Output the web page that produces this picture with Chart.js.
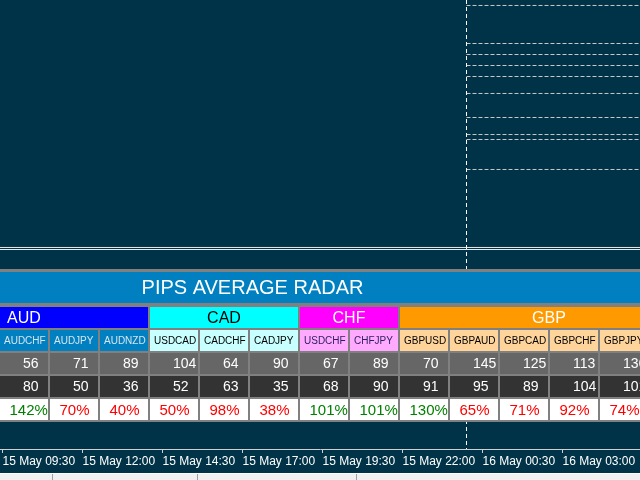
<!DOCTYPE html>
<html lang="en">
<head>
<meta charset="UTF-8">
<title>Pips Average Radar</title>
<script src="https://cdn.jsdelivr.net/npm/chart.js@4"></script>
<style>
    html, body { margin: 0; padding: 0; background-color: #003347; overflow: hidden; }
    .wrap { position: relative; width: 640px; height: 480px; }
    #radar { position: absolute; left: 0; top: 0; }
    .tabs-edge { position: absolute; left: 0; top: 473px; width: 640px; height: 1px; background: #ffffff; }
    .tabs { position: absolute; left: 0; top: 474px; width: 640px; height: 6px; background: #f0f0f0; }
    .tabs span { position: absolute; top: 0; width: 1px; height: 6px; background: #a0a0a0; }
</style>
</head>
<body>
<div class="wrap">
    <canvas id="radar" width="640" height="473"></canvas>
    <div class="tabs-edge"></div>
    <div class="tabs"><span style="left:52px"></span><span style="left:197px"></span><span style="left:356px"></span></div>
</div>
<script>
// table content, one entry per visible pair column
const pairs = ['AUDCHF', 'AUDJPY', 'AUDNZD', 'USDCAD', 'CADCHF', 'CADJPY', 'USDCHF', 'CHFJPY',
               'GBPUSD', 'GBPAUD', 'GBPCAD', 'GBPCHF', 'GBPJPY'];
const pairCurrency = ['AUD', 'AUD', 'AUD', 'CAD', 'CAD', 'CAD', 'CHF', 'CHF',
                      'GBP', 'GBP', 'GBP', 'GBP', 'GBP'];
const avgPips = [56, 71, 89, 104, 64, 90, 67, 89, 70, 145, 125, 113, 136];
const todayPips = [80, 50, 36, 52, 63, 35, 68, 90, 91, 95, 89, 104, 101];
const pctOfAvg = [142, 70, 40, 50, 98, 38, 101, 101, 130, 65, 71, 92, 74];

// currency header spans (column index); AUD and GBP run past the window edges
const currencies = ['AUD', 'CAD', 'CHF', 'GBP'];
const currencyFirstCol = [-2, 3, 6, 8];
const currencyLastCol = [2, 5, 7, 13];

// time axis, hours counted from 15 May 00:00
const timeTicks = [9.5, 12, 14.5, 17, 19.5, 22, 24.5, 27];
const timeLabels = ['15 May 09:30', '15 May 12:00', '15 May 14:30', '15 May 17:00',
                    '15 May 19:30', '15 May 22:00', '16 May 00:30', '16 May 03:00'];
const dayStart = 24;

// dashed levels of the new day and the window border, in % of plot height
const levels = [98.78, 90.31, 87.86, 85.41, 82.96, 79.18, 73.83, 70.04, 68.93, 62.25];
const windowBorders = [44.88, 44.43];

const timeMin = 9.421875;
const timeMax = timeMin + 20;

const currencyFill = { AUD: '#0000ff', CAD: '#00ffff', CHF: '#ff00ff', GBP: '#ff9900' };
const currencyInk = { AUD: '#ffffff', CAD: '#000000', CHF: '#ffffff', GBP: '#ffffff' };
const pairFill = { AUD: '#0080c0', CAD: '#c8ffff', CHF: '#ffaaff', GBP: '#ffd49b' };
const pairInk = { AUD: '#d8e4ee', CAD: '#000000', CHF: '#2a1e5c', GBP: '#000000' };
const font = size => size + 'px "Liberation Sans", Arial, sans-serif';

function cellRow(row, values, fill, extra) {
    return Object.assign({
        type: 'bar', indexAxis: 'y', xAxisID: 'col', yAxisID: 'row',
        grouped: false, barThickness: 21, inflateAmount: 0, borderWidth: 0, order: 1,
        data: values.map((v, i) => ({ x: [i, i + 0.96], y: row })),
        backgroundColor: fill
    }, extra);
}

function hLine(y, from, color, dash) {
    return {
        type: 'line', xAxisID: 'x', yAxisID: 'y', order: 9,
        data: [{ x: from, y: y }, { x: timeMax, y: y }],
        borderColor: color, borderWidth: 1, borderDash: dash, pointRadius: 0, fill: false
    };
}

const datasets = [
    ...levels.map(v => hLine(v, dayStart, '#c8c8c8', [4, 2])),
    ...windowBorders.map(v => hLine(v, timeMin, '#e8e8e8', [])),
    {
        type: 'line', xAxisID: 'x', yAxisID: 'y', order: 8,
        data: [{ x: dayStart, y: 100 }, { x: dayStart, y: 0 }],
        borderColor: '#ffffff', borderWidth: 1, borderDash: [4, 3], pointRadius: 0, fill: false
    },
    // grey frame behind the cells
    {
        type: 'bar', indexAxis: 'y', xAxisID: 'col', yAxisID: 'row', grouped: false,
        barThickness: 153, inflateAmount: 0, borderWidth: 0, order: 5,
        data: [{ x: [-2, 14], y: 28 / 23 }], backgroundColor: '#808080'
    },
    {
        type: 'bar', indexAxis: 'y', xAxisID: 'col', yAxisID: 'row', grouped: false,
        barThickness: 31, inflateAmount: 0, borderWidth: 0, order: 4,
        data: [{ x: [-2, 14], y: -30 / 23 }], backgroundColor: '#0080c0',
        texts: ['PIPS AVERAGE RADAR'], textFont: font(20), textColor: '#ffffff', textCol: 5.05
    },
    {
        type: 'bar', indexAxis: 'y', xAxisID: 'col', yAxisID: 'row', grouped: false,
        barThickness: 21, inflateAmount: 0, borderWidth: 0, order: 1,
        data: currencies.map((c, k) => ({ x: [currencyFirstCol[k], currencyLastCol[k] + 0.96], y: 0 })),
        backgroundColor: currencies.map(c => currencyFill[c]),
        texts: currencies, textFont: font(16), textColor: currencies.map(c => currencyInk[c])
    },
    cellRow(1, pairs, pairCurrency.map(c => pairFill[c]), {
        texts: pairs, textFont: font(10), textColor: pairCurrency.map(c => pairInk[c]), textInset: 4
    }),
    cellRow(2, avgPips, '#666666', {
        texts: avgPips.map(String), textFont: font(14), textColor: '#ffffff', textInset: 23
    }),
    cellRow(3, todayPips, '#333333', {
        texts: todayPips.map(String), textFont: font(14), textColor: '#ffffff', textInset: 23
    }),
    cellRow(4, pctOfAvg, '#ffffff', {
        texts: pctOfAvg.map(p => p + '%'), textFont: font(15),
        textColor: pctOfAvg.map(p => p >= 100 ? '#008000' : '#ff0000'), textInset: 9.5
    })
];

// writes the cell captions on top of the bars
const cellText = {
    id: 'cellText',
    afterDatasetsDraw(chart) {
        const { ctx, chartArea } = chart;
        ctx.save();
        ctx.beginPath();
        ctx.rect(chartArea.left, chartArea.top, chartArea.width, chartArea.height);
        ctx.clip();
        ctx.textBaseline = 'middle';
        chart.data.datasets.forEach((ds, i) => {
            if (!ds.texts) return;
            chart.getDatasetMeta(i).data.forEach((bar, j) => {
                const left = Math.min(bar.x, bar.base);
                const right = Math.max(bar.x, bar.base);
                let x;
                if (ds.textCol !== undefined) {
                    x = chart.scales.col.getPixelForValue(ds.textCol);
                    ctx.textAlign = 'center';
                } else if (ds.textInset !== undefined) {
                    x = left + ds.textInset;
                    ctx.textAlign = 'left';
                } else {
                    x = (left + right) / 2;
                    ctx.textAlign = 'center';
                }
                ctx.font = ds.textFont;
                ctx.fillStyle = Array.isArray(ds.textColor) ? ds.textColor[j] : ds.textColor;
                ctx.fillText(ds.texts[j], x, bar.y + 1);
            });
        });
        ctx.restore();
    }
};

new Chart(document.getElementById('radar'), {
    type: 'line',
    data: { datasets: datasets },
    options: {
        responsive: false,
        animation: false,
        events: [],
        layout: { padding: 0 },
        plugins: { legend: { display: false }, tooltip: { enabled: false } },
        scales: {
            x: {
                type: 'linear', position: 'bottom', min: timeMin, max: timeMax,
                afterBuildTicks: s => { s.ticks = timeTicks.map(v => ({ value: v })); },
                afterFit: s => { s.height = 24; },
                ticks: {
                    autoSkip: false, maxRotation: 0, align: 'start', padding: 1,
                    color: '#ffffff', font: { family: 'Liberation Sans', size: 12 },
                    callback: (v, i) => timeLabels[i]
                },
                grid: { drawOnChartArea: false, tickLength: 4, color: '#d0d0d0' },
                border: { color: '#d0d0d0' }
            },
            y: { type: 'linear', display: false, min: 0, max: 100 },
            col: { type: 'linear', axis: 'x', position: 'top', display: false, offset: false, min: 0, max: 12.8 },
            row: {
                type: 'linear', axis: 'y', position: 'right', display: false, offset: false, grace: 0,
                reverse: true, min: -317.5 / 23, max: 131.5 / 23
            }
        }
    },
    plugins: [cellText]
});
</script>
</body>
</html>
